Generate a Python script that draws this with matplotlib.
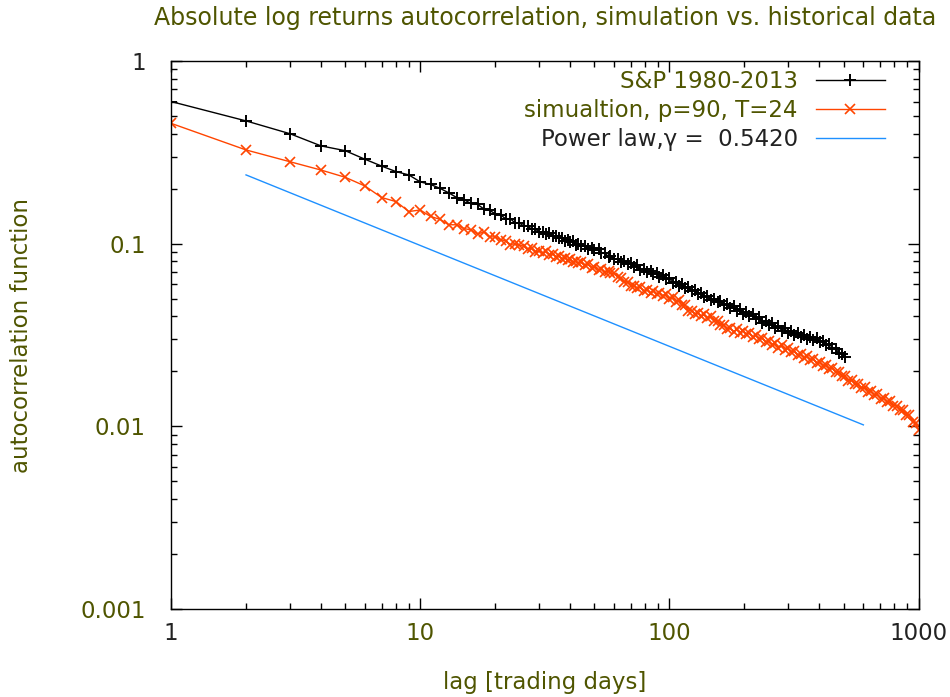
import matplotlib
matplotlib.use('Agg')
import matplotlib.pyplot as plt

# ---------------------------------------------------------------
# datos
sp_lag = [1, 2, 3, 4, 5, 6, 7, 8, 9, 10, 11, 12, 13, 14, 15, 16, 17, 18, 19, 20,
          21, 22, 23, 24, 25, 26, 27, 28, 29, 30, 31, 32, 33, 34, 35, 36, 37, 38, 39, 40,
          41, 42, 43, 44, 46, 47, 49, 50, 52, 53, 55, 57, 58, 60, 62, 64, 66, 68, 70, 72,
          74, 76, 79, 81, 84, 86, 89, 91, 94, 97, 100, 103, 106, 109, 112, 116, 119, 123, 127, 130,
          134, 138, 142, 147, 151, 156, 160, 165, 170, 175, 181, 186, 192, 197, 203, 209, 216, 222, 229, 236,
          243, 250, 258, 265, 273, 282, 290, 299, 308, 317, 327, 336, 346, 357, 367, 378, 390, 401, 413, 426,
          438, 451, 465, 479, 493, 505]
sp_acf = [0.600, 0.470, 0.400, 0.343, 0.323, 0.290, 0.266, 0.248, 0.238, 0.218,
          0.211, 0.201, 0.190, 0.179, 0.174, 0.166, 0.164, 0.155, 0.152, 0.146,
          0.144, 0.137, 0.137, 0.130, 0.130, 0.125, 0.125, 0.120, 0.120, 0.116,
          0.116, 0.113, 0.114, 0.110, 0.110, 0.107, 0.108, 0.104, 0.105, 0.102,
          0.103, 0.099, 0.100, 0.097, 0.097, 0.094, 0.095, 0.092, 0.093, 0.089,
          0.089, 0.085, 0.086, 0.082, 0.083, 0.079, 0.080, 0.077, 0.078, 0.075,
          0.076, 0.072, 0.073, 0.070, 0.071, 0.068, 0.069, 0.066, 0.067, 0.064,
          0.065, 0.061, 0.062, 0.059, 0.060, 0.057, 0.058, 0.055, 0.056, 0.053,
          0.054, 0.051, 0.052, 0.049, 0.050, 0.048, 0.0485, 0.046, 0.047, 0.0445,
          0.0455, 0.043, 0.044, 0.0415, 0.0425, 0.040, 0.041, 0.0385, 0.0395, 0.037,
          0.038, 0.0357, 0.0366, 0.0345, 0.0355, 0.0335, 0.0344, 0.0326, 0.0334, 0.0317,
          0.0325, 0.0309, 0.0317, 0.0302, 0.0310, 0.0296, 0.0303, 0.0289, 0.0295, 0.0280,
          0.0284, 0.0268, 0.0266, 0.0252, 0.0250, 0.0240]

sim_lag = [1, 2, 3, 4, 5, 6, 7, 8, 9, 10, 11, 12, 13, 14, 15, 16, 17, 18, 19, 20,
           21, 22, 23, 24, 25, 26, 27, 28, 29, 30, 31, 32, 33, 34, 35, 36, 37, 38, 39, 40,
           41, 42, 43, 44, 46, 47, 49, 50, 52, 53, 55, 57, 58, 60, 62, 64, 66, 68, 70, 72,
           74, 76, 79, 81, 84, 86, 89, 91, 94, 97, 100, 103, 106, 109, 112, 116, 119, 123, 127, 130,
           134, 138, 142, 147, 151, 156, 160, 165, 170, 175, 181, 186, 192, 197, 203, 209, 216, 222, 229, 236,
           243, 250, 258, 265, 273, 282, 290, 299, 308, 317, 327, 336, 346, 357, 367, 378, 390, 401, 413, 426,
           438, 451, 465, 479, 493, 508, 523, 539, 555, 572, 589, 607, 625, 643, 663, 683, 703, 724, 746, 768,
           791, 815, 839, 865, 891, 917, 945, 973, 1000]
sim_acf = [0.456, 0.326, 0.281, 0.253, 0.231, 0.207, 0.179, 0.170, 0.150, 0.153,
           0.141, 0.136, 0.127, 0.127, 0.121, 0.119, 0.113, 0.116, 0.109, 0.109,
           0.105, 0.104, 0.099, 0.100, 0.098, 0.097, 0.093, 0.095, 0.090, 0.091,
           0.089, 0.091, 0.087, 0.088, 0.085, 0.086, 0.083, 0.084, 0.081, 0.082,
           0.079, 0.080, 0.078, 0.079, 0.076, 0.077, 0.074, 0.075, 0.072, 0.073,
           0.070, 0.071, 0.069, 0.069, 0.066, 0.065, 0.062, 0.062, 0.059, 0.059,
           0.057, 0.058, 0.055, 0.056, 0.054, 0.055, 0.053, 0.054, 0.052, 0.053,
           0.050, 0.051, 0.048, 0.049, 0.046, 0.046, 0.043, 0.043, 0.041, 0.042,
           0.040, 0.041, 0.039, 0.040, 0.038, 0.038, 0.036, 0.036, 0.034, 0.0345,
           0.033, 0.034, 0.0325, 0.0335, 0.032, 0.0325, 0.031, 0.0315, 0.030, 0.0305,
           0.029, 0.0295, 0.028, 0.0285, 0.027, 0.0278, 0.0263, 0.0268, 0.0254, 0.0258,
           0.0245, 0.0250, 0.0238, 0.0242, 0.0230, 0.0234, 0.0223, 0.0226, 0.0215, 0.0218,
           0.0207, 0.0209, 0.0198, 0.0199, 0.0188, 0.0188, 0.0178, 0.0179, 0.0170, 0.0171,
           0.0162, 0.0164, 0.0155, 0.0157, 0.0148, 0.0150, 0.0142, 0.0143, 0.0136, 0.0137,
           0.0130, 0.0130, 0.0123, 0.0123, 0.0115, 0.0115, 0.0106, 0.0105, 0.0096]

pl_lag = [2, 600]
pl_acf = [0.238, 0.0102]

x_ticks = [1, 10, 100, 1000]
x_labels = ['1', '10', '100', '1000']
y_ticks = [0.001, 0.01, 0.1, 1]
y_labels = ['0.001', '0.01', '0.1', '1']

# ---------------------------------------------------------------
oliva = '#4f5500'
oscuro = '#222222'
fs = 16.5

fig = plt.figure(figsize=(9.5, 6.97), dpi=100)
ax = fig.add_axes([0.18, 0.126, 0.787, 0.7865])

ax.plot(sp_lag, sp_acf, color='black', lw=1.0, marker='+', ms=8, mew=1.4,
        label='S&P 1980-2013')
ax.plot(sim_lag, sim_acf, color='#ff4500', lw=1.0, marker='x', ms=7.5, mew=1.2,
        label='simualtion, p=90, T=24')
ax.plot(pl_lag, pl_acf, color='#1e90ff', lw=1.0,
        label='Power law,\u03b3 =  0.5420')

ax.set_xscale('log')
ax.set_yscale('log')
ax.set_xlim(1, 1000)
ax.set_ylim(0.001, 1)

ax.set_xticks(x_ticks, x_labels)
ax.set_yticks(y_ticks, y_labels)
ax.tick_params(which='both', direction='in', top=True, right=True, width=1.0)
ax.tick_params(which='major', length=8, labelsize=fs)
ax.tick_params(axis='x', which='major', pad=9)
ax.tick_params(axis='y', which='major', pad=18)
ax.tick_params(which='minor', length=4)
for t in ax.get_xticklabels() + ax.get_yticklabels():
    t.set_color(oliva)
ax.get_xticklabels()[0].set_color(oscuro)
ax.get_xticklabels()[-1].set_color(oscuro)
ax.get_yticklabels()[-1].set_color(oscuro)
for s in ax.spines.values():
    s.set_linewidth(1.0)

ax.set_title('Absolute log returns autocorrelation, simulation vs. historical data',
             fontsize=fs + 0.5, color=oliva, pad=26)
ax.set_xlabel('lag [trading days]', fontsize=fs, color=oliva)
ax.set_ylabel('autocorrelation function', fontsize=fs, color=oliva)
ax.xaxis.set_label_coords(0.5, -0.112)
ax.yaxis.set_label_coords(-0.185, 0.5)

leg = ax.legend(loc='upper right', frameon=False, fontsize=fs, markerfirst=False,
                handlelength=3.0, numpoints=1, borderaxespad=0.0, labelspacing=0.25,
                bbox_to_anchor=(0.967, 1.0))
colores = [oliva, oliva, oscuro]
for t, c in zip(leg.get_texts(), colores):
    t.set_color(c)

plt.savefig('out.png', dpi=100)
